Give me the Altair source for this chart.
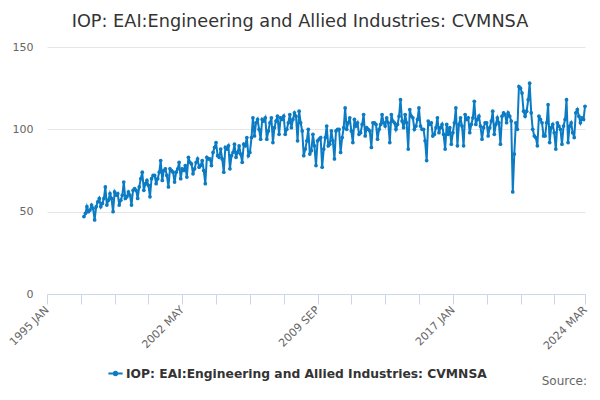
import altair as alt
import pandas as pd

SERIES = "IOP: EAI:Engineering and Allied Industries: CVMNSA"

# monthly index values, Jan..Dec
years = list(range(1997, 2025))
values = [
    47, 49, 53, 50, 51, 54, 52, 45, 53, 56, 58, 53,        # 1997
    55, 58, 65, 54, 57, 61, 58, 50, 62, 60, 61, 54,        # 1998
    57, 60, 68, 58, 59, 62, 60, 54, 63, 64, 63, 58,        # 1999
    65, 70, 74, 63, 67, 69, 66, 59, 70, 72, 72, 67,        # 2000
    70, 74, 81, 69, 75, 76, 72, 65, 76, 75, 74, 68,        # 2001
    74, 76, 80, 70, 76, 75, 78, 71, 83, 80, 79, 73,        # 2002
    76, 80, 82, 77, 78, 81, 75, 67, 83, 82, 82, 78,        # 2003
    86, 89, 92, 84, 83, 88, 82, 74, 89, 88, 90, 76,        # 2004
    84, 86, 91, 83, 86, 90, 85, 80, 91, 90, 95, 84,        # 2005
    86, 95, 107, 96, 104, 106, 100, 94, 106, 105, 107, 94,  # 2006
    99, 104, 107, 92, 101, 105, 108, 97, 107, 106, 108, 97,  # 2007
    100, 104, 109, 101, 106, 110, 108, 93, 111, 104, 99, 84,  # 2008
    88, 93, 100, 85, 87, 97, 90, 78, 93, 94, 95, 77,       # 2009
    88, 95, 102, 90, 91, 99, 93, 82, 99, 100, 100, 86,     # 2010
    95, 101, 113, 100, 104, 107, 99, 92, 106, 102, 104, 97,  # 2011
    98, 103, 109, 96, 101, 100, 99, 89, 104, 104, 103, 94,  # 2012
    100, 103, 109, 104, 102, 107, 104, 92, 109, 105, 104, 100,  # 2013
    103, 108, 118, 105, 101, 109, 104, 88, 112, 108, 107, 100,  # 2014
    102, 106, 113, 102, 100, 100, 93, 81, 105, 103, 104, 96,  # 2015
    97, 101, 107, 98, 101, 103, 97, 88, 103, 97, 101, 91,  # 2016
    98, 104, 113, 90, 103, 107, 102, 90, 109, 106, 107, 98,  # 2017
    103, 107, 117, 103, 106, 108, 102, 94, 101, 104, 104, 96,  # 2018
    101, 105, 111, 97, 103, 107, 104, 91, 108, 110, 109, 104,  # 2019
    110, 108, 105, 62, 85, 104, 100, 126, 125, 122, 111, 108,  # 2020
    111, 118, 128, 110, 100, 96, 95, 90, 108, 106, 104, 96,  # 2021
    96, 104, 115, 92, 101, 103, 98, 88, 104, 102, 100, 91,  # 2022
    102, 106, 118, 92, 102, 104, 98, 95, 110, 112, 108, 104,  # 2023
    107, 106, 114,                                          # 2024
]

tick_labels = ["1995-01", "2002-05", "2009-09", "2017-01", "2024-03"]

dates = [f"{y}-{m:02d}-01" for y in years for m in range(1, 13)][: len(values)]
df = pd.DataFrame({"date": dates, "value": values, "series": SERIES})

# x ticks every 22 months from 1995 JAN, plus the last month
tick_months = list(range(0, 351, 22)) + [350]
tick_values = [
    alt.DateTime(year=1995 + k // 12, month=k % 12 + 1, date=1, utc=True)
    for k in tick_months
]

label_expr = (
    "indexof(" + str(tick_labels) + ", utcFormat(datum.value, '%Y-%m')) >= 0"
    " ? upper(utcFormat(datum.value, '%Y %b')) : ''"
)

blue = "#0b7bc4"
legend_symbol = (
    "M-1.3,0L1.3,0M-0.3,0A0.3,0.3 0 1,0 0.3,0A0.3,0.3 0 1,0 -0.3,0Z"
)

line = (
    alt.Chart(df)
    .mark_line(strokeWidth=2, point=alt.OverlayMarkDef(size=14, filled=True, color=blue))
    .encode(
        x=alt.X(
            "date:T",
            scale=alt.Scale(
                type="utc",
                domain=[
                    alt.DateTime(year=1995, month=1, date=1, utc=True),
                    alt.DateTime(year=2024, month=3, date=1, utc=True),
                ],
                nice=False,
            ),
            axis=alt.Axis(
                title=None,
                values=tick_values,
                labelExpr=label_expr,
                labelAngle=315,
                labelAlign="right",
                labelBaseline="middle",
                labelFlush=False,
                labelOverlap=False,
                labelColor="#666666",
                labelFontSize=11,
                labelPadding=4,
                tickSize=10,
                tickColor="#ccd6eb",
                domainColor="#ccd6eb",
                grid=False,
            ),
        ),
        y=alt.Y(
            "value:Q",
            scale=alt.Scale(domain=[0, 150], nice=False),
            axis=alt.Axis(
                title=None,
                values=[0, 50, 100, 150],
                domain=False,
                ticks=False,
                labelColor="#666666",
                labelFontSize=11,
                labelPadding=14,
                gridColor="#e6e6e6",
            ),
        ),
        color=alt.Color(
            "series:N",
            scale=alt.Scale(range=[blue]),
            legend=alt.Legend(
                title=None,
                orient="none",
                legendX=62,
                legendY=320,
                symbolType=legend_symbol,
                symbolSize=120,
                symbolStrokeWidth=2,
                labelFontSize=12.3,
                labelFontWeight="bold",
                labelColor="#333333",
                labelLimit=500,
            ),
        ),
    )
)

source = (
    alt.Chart(pd.DataFrame({"t": ["Source:"]}))
    .mark_text(align="right", baseline="middle", fontSize=12, color="#666666", font="DejaVu Sans")
    .encode(text="t:N", x=alt.value(540), y=alt.value(334))
)

chart = (
    (line + source)
    .properties(
        width=538,
        height=247,
        autosize="none",
        padding={"left": 39, "top": 39, "right": 5, "bottom": 98},
        title=alt.TitleParams(
            SERIES,
            fontSize=17.7,
            fontWeight="normal",
            color="#333333",
            font="DejaVu Sans",
            anchor="middle",
            dx=-16,
            offset=10,
        ),
    )
    .configure(font="DejaVu Sans")
    .configure_view(strokeWidth=0)
)

chart.save("out.html", embed_options={"renderer": "svg", "actions": False})
